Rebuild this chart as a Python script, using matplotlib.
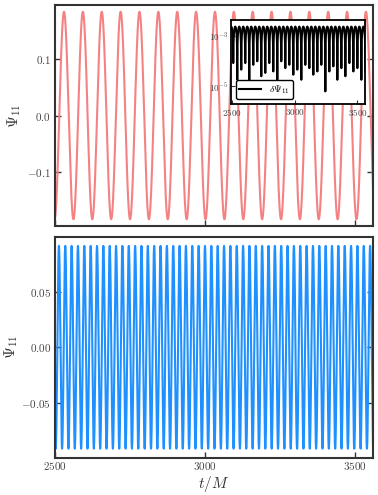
import numpy as np
import matplotlib
matplotlib.use('Agg')
import matplotlib.pyplot as plt

plt.rcParams['font.family'] = 'serif'
plt.rcParams['font.serif'] = ['cmr10', 'DejaVu Serif']
plt.rcParams['mathtext.fontset'] = 'cm'
plt.rcParams['axes.formatter.use_mathtext'] = True
plt.rcParams['axes.unicode_minus'] = True

# time range of the run (t/M)
t_start, t_end = 2500, 3560

# upper panel: red mode
top_amp = 0.184
top_period = 62.9
top_first_peak = 2530

# lower panel: blue mode
bot_amp = 0.091
bot_period = 21.17
bot_first_peak = 2513

# inset: |delta Psi_11| humps and the depth of each dip (log10)
dip_amp = 10 ** -2.64
dip_first = 2508
dip_spacing = 31.97
dip_floor_log = [-4.08, -4.74, -4.34, -4.08, -4.80, -4.15, -4.01, -4.60,
                 -4.47, -4.08, -4.41, -4.74, -4.01, -4.28, -4.15, -4.54,
                 -4.34, -4.74, -4.15, -4.28, -4.54, -4.41, -4.15, -5.20,
                 -4.41, -4.21, -4.74, -4.28, -4.60, -4.08, -4.41, -4.28,
                 -4.74, -4.40]

top_yticks = [-0.1, 0.0, 0.1]
bot_yticks = [-0.05, 0.0, 0.05]
x_ticks = [2500, 3000, 3500]

t = np.linspace(t_start, t_end, 20000)
psi_top = top_amp * np.cos(2 * np.pi * (t - top_first_peak) / top_period)
psi_bot = bot_amp * np.cos(2 * np.pi * (t - bot_first_peak) / bot_period)

dip_t = dip_first + dip_spacing * np.arange(len(dip_floor_log))
td = np.sort(np.concatenate([np.linspace(2490, t_end, 20000), dip_t]))
k = np.clip(np.round((td - dip_first) / dip_spacing).astype(int), 0, len(dip_floor_log) - 1)
floor = 10 ** np.array(dip_floor_log)[k]
dpsi = np.sqrt((dip_amp * np.sin(np.pi * (td - dip_first) / dip_spacing)) ** 2 + floor ** 2)

spine_c = '#333333'
fig = plt.figure(figsize=(3.78, 4.95), dpi=100)
ax1 = fig.add_axes([0.1455, 0.5434, 0.8413, 0.4465])
ax2 = fig.add_axes([0.1455, 0.0754, 0.8413, 0.4465])

ax1.plot(t, psi_top, color='#f48282', lw=1.5)
ax2.plot(t, psi_bot, color='#1e90ff', lw=1.5)

for ax in (ax1, ax2):
    ax.set_xlim(t_start, t_end)
    ax.set_xticks(x_ticks)
    for s in ax.spines.values():
        s.set_color(spine_c)
        s.set_linewidth(1.5)
    ax.tick_params(direction='in', length=4, width=1, colors=spine_c,
                   labelcolor='#444444', labelsize=8, right=True, pad=3)
    ax.set_ylabel(r'$\Psi_{11}$', fontsize=11, color='#333333')

ax1.set_ylim(-0.196, 0.196)
ax1.set_yticks(top_yticks)
ax1.set_yticklabels([r'$-0.1$', r'$0.0$', r'$0.1$'])
ax1.tick_params(labelbottom=False)

ax2.set_ylim(-0.0991, 0.0993)
ax2.set_yticks(bot_yticks)
ax2.set_yticklabels([r'$-0.05$', r'$0.00$', r'$0.05$'])
ax2.set_xticklabels([r'$2500$', r'$3000$', r'$3500$'])
ax2.tick_params(axis='x', pad=2)
ax2.set_xlabel(r'$t/M$', fontsize=11, color='#333333', labelpad=1)
ax1.yaxis.set_label_coords(-0.1, 0.5)
ax2.yaxis.set_label_coords(-0.11, 0.5)

# inset
ax3 = fig.add_axes([0.6111, 0.7899, 0.3545, 0.1697])
ax3.plot(td, dpsi, color='black', lw=1.5, label=r'$\delta\Psi_{11}$')
ax3.set_yscale('log')
ax3.set_xlim(2490, t_end)
ax3.set_ylim(2e-6, 4.2e-3)
ax3.set_xticks(x_ticks)
ax3.set_xticklabels([r'$2500$', r'$3000$', r'$3500$'])
ax3.set_yticks([1e-5, 1e-3])
ax3.set_yticklabels([r'$10^{-5}$', r'$10^{-3}$'])
ax3.yaxis.set_minor_locator(matplotlib.ticker.NullLocator())
ax3.tick_params(direction='in', length=3, width=0.8, labelsize=6.5, pad=2,
                colors='#333333', labelcolor='#444444')
for s in ax3.spines.values():
    s.set_linewidth(1.3)
leg = ax3.legend(loc='lower left', fontsize=7, frameon=True, fancybox=True,
                 handlelength=2.2, borderpad=0.35, borderaxespad=0.5,
                 handletextpad=0.9)
leg.get_frame().set_edgecolor('black')
leg.get_frame().set_linewidth(1.0)
leg.get_frame().set_alpha(1)

fig.savefig('out.png', dpi=100)
